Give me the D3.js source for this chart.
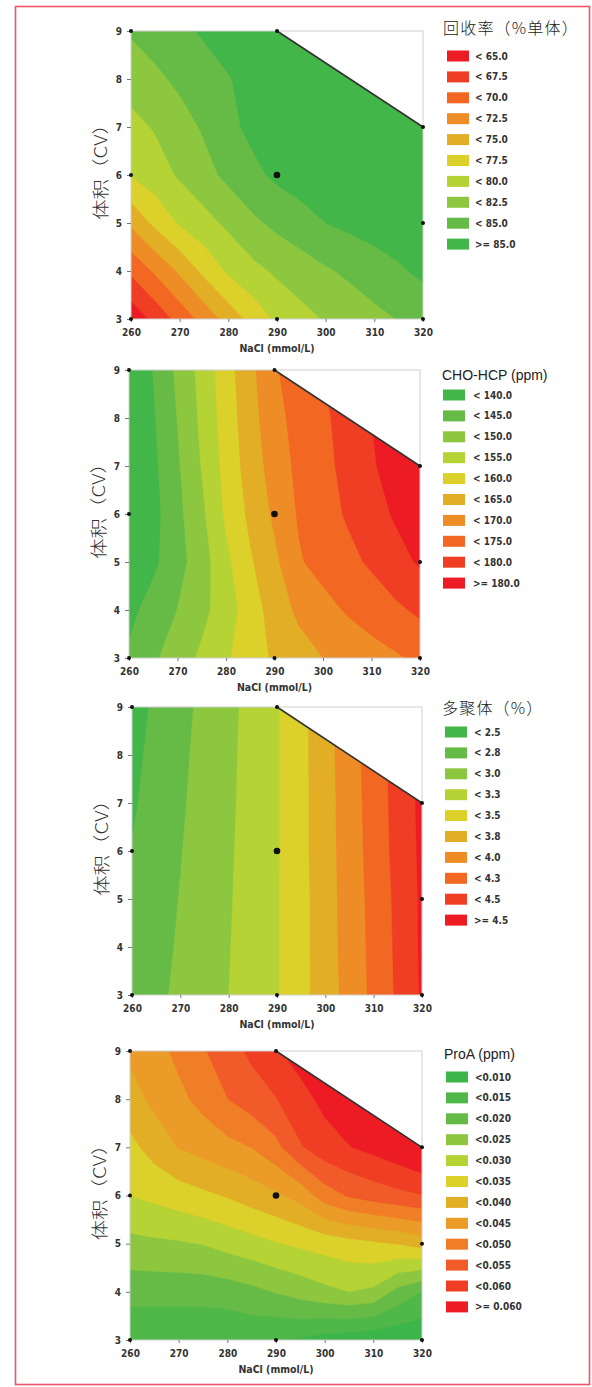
<!DOCTYPE html>
<html><head><meta charset="utf-8">
<script src="https://cdn.jsdelivr.net/npm/d3@7"></script>
<style>body{margin:0;background:#fff}svg{display:block}</style>
</head><body>
<script>
// ---------- data ----------
const gridX = [260,265,270,275,280,285,290,295,300,305,310,315,320];
const gridY = [9,8,7,6,5,4,3];
const xTicks = [260,270,280,290,300,310,320];
const yTicks = [3,4,5,6,7,8,9];
const designX = [260,260,260,290,290,290,320,320,320];
const designY = [3,6,9,3,6,9,3,5,7];
const regionX = [260,260,290,320,320];
const regionY = [3,9,9,7,3];

const recoveryGrid = [
 [82.8,83.6,84.4,85.3,85.8,86.2,86.6,87.0,87.3,87.5,87.7,87.9,88.0],
 [81.0,82.0,83.0,84.0,84.9,85.6,86.2,86.7,87.1,87.4,87.6,87.8,88.0],
 [79.3,80.2,81.5,82.8,84.4,85.6,86.3,86.8,87.2,87.5,87.7,87.8,88.0],
 [77.6,78.9,80.3,81.7,83.1,84.4,85.5,86.2,86.7,87.1,87.4,87.6,87.8],
 [73.0,75.6,77.8,79.1,80.5,82.0,83.1,84.0,85.0,85.6,86.0,86.3,86.6],
 [68.0,70.4,72.9,75.6,77.9,79.3,80.4,81.3,82.2,83.0,83.9,84.7,85.5],
 [63.2,65.8,68.4,70.9,73.5,75.9,78.0,79.2,80.2,81.0,81.8,82.6,83.4]
];
const recoveryThresholds = [65,67.5,70,72.5,75,77.5,80,82.5,85];
const recoveryLabels = ["< 65.0","< 67.5","< 70.0","< 72.5","< 75.0","< 77.5","< 80.0","< 82.5","< 85.0",">= 85.0"];

const hcpGrid = [
 [134.4,140.2,146.0,151.7,157.8,163.6,169.5,172.3,174.9,177.7,180.6,183.0,185.0],
 [133.8,139.5,145.2,151.0,157.3,163.0,168.4,171.7,174.1,176.9,180.0,182.8,185.5],
 [133.4,138.9,144.4,150.3,156.6,162.3,167.2,171.2,173.6,176.4,179.4,182.3,185.2],
 [132.9,138.3,143.7,149.0,155.8,161.1,165.9,170.5,173.0,175.5,178.0,180.6,183.2],
 [134.7,139.0,143.2,147.8,153.8,159.4,163.9,169.5,171.8,173.7,175.7,178.3,180.6],
 [138.7,141.9,145.1,148.6,152.6,157.4,162.3,166.0,168.3,170.5,172.3,174.1,175.9],
 [140.8,144.2,147.6,150.9,154.3,157.7,160.7,162.9,165.0,166.5,168.0,169.4,171.0]
];
const hcpThresholds = [140,145,150,155,160,165,170,175,180];
const hcpLabels = ["< 140.0","< 145.0","< 150.0","< 155.0","< 160.0","< 165.0","< 170.0","< 175.0","< 180.0",">= 180.0"];

const aggGrid = [
 [2.41,2.54,2.68,2.81,2.94,3.08,3.23,3.43,3.66,3.90,4.13,4.36,4.57],
 [2.44,2.57,2.70,2.83,2.95,3.09,3.23,3.43,3.66,3.89,4.12,4.35,4.56],
 [2.47,2.59,2.72,2.84,2.96,3.09,3.23,3.43,3.65,3.88,4.11,4.34,4.56],
 [2.51,2.62,2.74,2.86,2.97,3.10,3.23,3.43,3.65,3.87,4.10,4.33,4.55],
 [2.54,2.65,2.76,2.87,2.98,3.10,3.23,3.42,3.64,3.86,4.08,4.31,4.54],
 [2.57,2.67,2.78,2.89,2.99,3.11,3.23,3.42,3.64,3.85,4.07,4.30,4.54],
 [2.60,2.70,2.80,2.90,3.00,3.11,3.23,3.42,3.63,3.84,4.06,4.29,4.53]
];
const aggThresholds = [2.5,2.75,3.0,3.25,3.5,3.75,4.0,4.25,4.5];
const aggLabels = ["< 2.5","< 2.8","< 3.0","< 3.3","< 3.5","< 3.8","< 4.0","< 4.3","< 4.5",">= 4.5"];

const proaGrid = [
 [0.0410,0.0430,0.0463,0.0495,0.0528,0.0561,0.0594,0.0620,0.0650,0.0670,0.0690,0.0700,0.0710],
 [0.0380,0.0412,0.0437,0.0466,0.0499,0.0524,0.0548,0.0584,0.0612,0.0635,0.0655,0.0670,0.0680],
 [0.0336,0.0370,0.0402,0.0418,0.0435,0.0451,0.0486,0.0545,0.0580,0.0598,0.0615,0.0635,0.0660],
 [0.0300,0.0312,0.0326,0.0340,0.0354,0.0373,0.0391,0.0418,0.0475,0.0505,0.0522,0.0536,0.0548],
 [0.0236,0.0241,0.0245,0.0252,0.0268,0.0282,0.0297,0.0309,0.0320,0.0331,0.0342,0.0352,0.0370],
 [0.0170,0.0170,0.0170,0.0170,0.0175,0.0187,0.0203,0.0220,0.0237,0.0250,0.0240,0.0185,0.0150],
 [0.0105,0.0105,0.0105,0.0105,0.0105,0.0110,0.0102,0.0095,0.0078,0.0071,0.0065,0.0062,0.0059]
];
const proaThresholds = [0.010,0.015,0.020,0.025,0.030,0.035,0.040,0.045,0.050,0.055,0.060];
const proaLabels = ["<0.010","<0.015","<0.020","<0.025","<0.030","<0.035","<0.040","<0.045","<0.050","<0.055","<0.060",">= 0.060"];

// ---------- styles ----------
const redToGreen = ["#ED1C24","#EF3E24","#F26722","#EE8C25","#E2AE26","#DCD12A","#B5D334","#8DC63F","#66BB46","#43B649"];
const greenToRed = redToGreen.slice().reverse();
const proaColors = ["#3CB54A","#4FB848","#66BB46","#8DC63F","#B5D334","#DCD12A","#E2AE26","#EB9B27","#F07E26","#F15A29","#EF3E24","#ED1C24"];

const panels = [
 {grid:recoveryGrid, th:recoveryThresholds, labels:recoveryLabels, colors:redToGreen,
  title:"回收率（%单体）", cjk:true, box:[131,423,31,319], lg:{tx:443,ty:27,sx:447,sy:56,lx:475}},
 {grid:hcpGrid, th:hcpThresholds, labels:hcpLabels, colors:greenToRed,
  title:"CHO-HCP (ppm)", cjk:false, box:[129,420,370,658], lg:{tx:442,ty:375,sx:443,sy:395,lx:473}},
 {grid:aggGrid, th:aggThresholds, labels:aggLabels, colors:greenToRed,
  title:"多聚体（%）", cjk:true, box:[132,422,707,995], lg:{tx:442,ty:707,sx:445,sy:732,lx:474}},
 {grid:proaGrid, th:proaThresholds, labels:proaLabels, colors:proaColors,
  title:"ProA (ppm)", cjk:false, box:[130,422,1051,1340], lg:{tx:444,ty:1054,sx:446,sy:1077,lx:475}}
];

const W = 592, H = 1387;
const svg = d3.select("body").append("svg").attr("width", W).attr("height", H);
const tickFont = "'Liberation Sans Narrow','DejaVu Sans Condensed','Liberation Sans',sans-serif";

svg.append("rect").attr("x",15.5).attr("y",6.5).attr("width",574).attr("height",1378)
  .attr("fill","none").attr("stroke","#ef5565").attr("stroke-width",1.6);

const nx = gridX.length, ny = gridY.length;
const dxStep = gridX[1]-gridX[0], dyStep = gridY[0]-gridY[1];

panels.forEach((p, pi) => {
  const [x0,x1,y0,y1] = p.box;
  const xs = d3.scaleLinear().domain([260,320]).range([x0,x1]);
  const ys = d3.scaleLinear().domain([3,9]).range([y1,y0]);
  const g = svg.append("g");

  const region = regionX.map((x,i)=>[xs(x), ys(regionY[i])]);
  const cid = "clip"+pi;
  svg.append("clipPath").attr("id",cid).append("polygon")
     .attr("points", region.map(d=>d.join(",")).join(" "));

  const cg = g.append("g").attr("clip-path",`url(#${cid})`);
  cg.append("rect").attr("x",x0-2).attr("y",y0-2).attr("width",x1-x0+4).attr("height",y1-y0+4)
    .attr("fill",p.colors[0]);

  const values = p.grid.flat();
  const contours = d3.contours().size([nx,ny]).thresholds(p.th)(values);
  const proj = d3.geoTransform({point:function(cx,cy){
     this.stream.point(xs(gridX[0] + (cx-0.5)*dxStep), ys(gridY[0] - (cy-0.5)*dyStep));
  }});
  const path = d3.geoPath(proj);
  cg.selectAll("path.c").data(contours).join("path").attr("class","c")
    .attr("d", path).attr("fill", (d,i)=>p.colors[i+1]).attr("stroke",(d,i)=>p.colors[i+1]).attr("stroke-width",0.3);

  // frame
  g.append("rect").attr("x",x0).attr("y",y0).attr("width",x1-x0).attr("height",y1-y0)
   .attr("fill","none").attr("stroke","#cfcfcf").attr("stroke-width",1);
  // cut line
  g.append("line").attr("x1",xs(290)).attr("y1",ys(9)).attr("x2",xs(320)).attr("y2",ys(7))
   .attr("stroke","#333").attr("stroke-width",1.6);

  // axes
  const ax = g.append("g").attr("transform",`translate(0,${y1})`)
    .call(d3.axisBottom(xs).tickValues(xTicks).tickSize(3).tickPadding(7).tickFormat(d3.format("d")));
  const ay = g.append("g").attr("transform",`translate(${x0},0)`)
    .call(d3.axisLeft(ys).tickValues(yTicks).tickSize(4).tickPadding(5).tickFormat(d3.format("d")));
  [ax,ay].forEach(a=>{
    a.select(".domain").remove();
    a.selectAll(".tick line").attr("stroke","#777");
    a.selectAll("text").attr("font-family",tickFont).attr("font-weight","bold")
      .attr("font-size",10).attr("fill","#333").style("font-stretch","condensed");
  });

  // design points
  g.selectAll("circle.pt").data(designX.map((x,i)=>[x,designY[i]])).join("circle")
    .attr("class","pt").attr("cx",d=>xs(d[0])).attr("cy",d=>ys(d[1]))
    .attr("r",d=>(d[0]===290&&d[1]===6)?3.3:2).attr("fill","#111");

  // axis titles
  g.append("text").attr("x",(x0+x1)/2).attr("y",y1+33).attr("text-anchor","middle")
    .attr("font-family",tickFont).attr("font-weight","bold").attr("font-size",10.5)
    .style("font-stretch","condensed").attr("fill","#333").text("NaCl (mmol/L)");
  g.append("text").attr("transform",`translate(${x0-32},${(y0+y1)/2-8}) rotate(-90) scale(1.2,1)`)
    .attr("text-anchor","middle").attr("dominant-baseline","central")
    .attr("font-family","'Noto Sans CJK SC',sans-serif").attr("font-size",17).attr("font-weight",300)
    .attr("fill","#333").text("体积（CV）");

  // legend
  const lg = p.lg;
  g.append("text").attr("x",lg.tx).attr("y",lg.ty).attr("dominant-baseline","central")
    .attr("font-family", p.cjk ? "'Noto Sans CJK SC',sans-serif" : "'Liberation Sans',Arial,sans-serif")
    .attr("font-size", p.cjk ? 16 : 14).attr("font-weight", p.cjk ? 300 : 400)
    .attr("letter-spacing", p.cjk ? 1.2 : 0)
    .attr("fill","#222").text(p.title);
  const items = g.selectAll("g.li").data(p.labels).join("g").attr("class","li")
    .attr("transform",(d,i)=>`translate(0,${lg.sy + i*20.9})`);
  items.append("rect").attr("x",lg.sx).attr("y",-5.5).attr("width",22).attr("height",11)
    .attr("fill",(d,i)=>p.colors[i]);
  items.append("text").attr("x",lg.lx).attr("y",0).attr("dominant-baseline","central")
    .attr("font-family",tickFont).attr("font-weight","bold").attr("font-size",10)
    .style("font-stretch","condensed").attr("fill","#333").text(d=>d);
});
</script>
</body></html>
